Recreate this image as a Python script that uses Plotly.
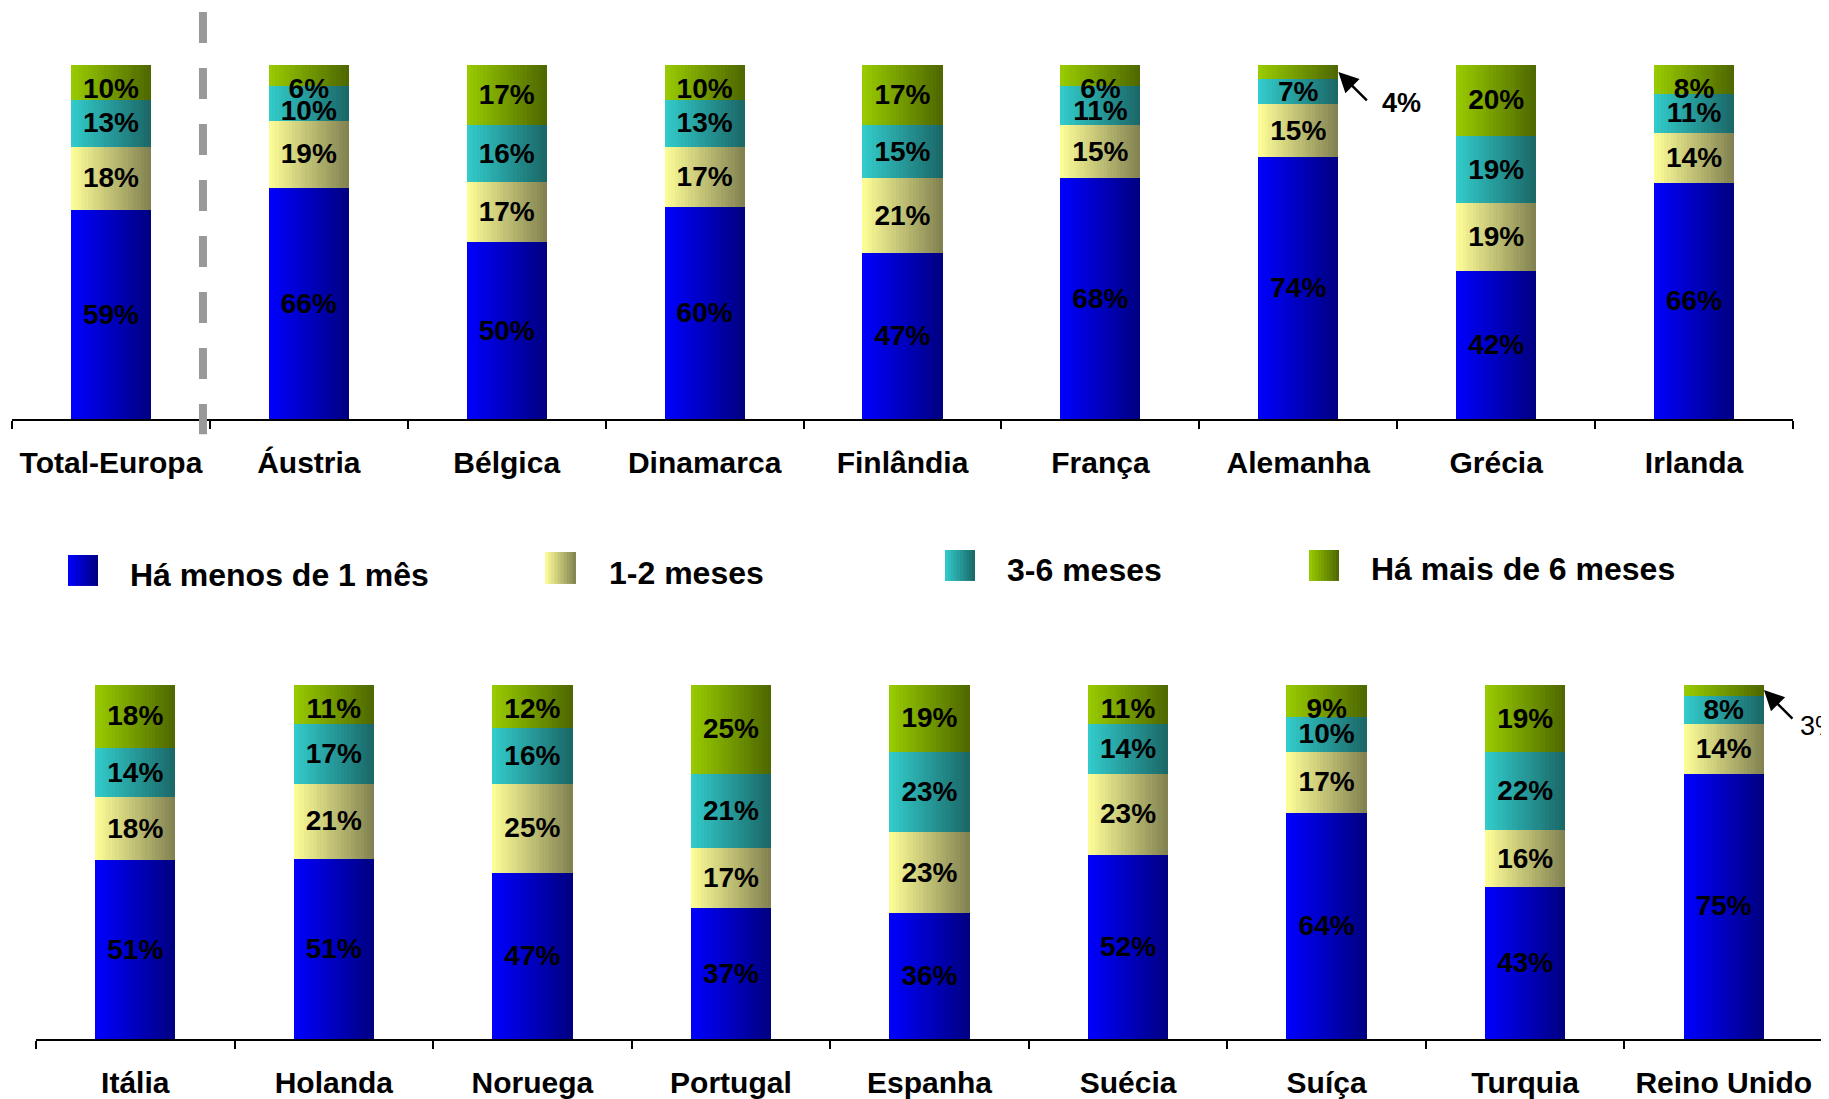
import plotly.graph_objects as go

# ---------------- data ----------------
cats_top = ["Total-Europa", "Áustria", "Bélgica", "Dinamarca", "Finlândia",
            "França", "Alemanha", "Grécia", "Irlanda"]
lt1m_top = [59, 66, 50, 60, 47, 68, 74, 42, 66]
m12_top = [18, 19, 17, 17, 21, 15, 15, 19, 14]
m36_top = [13, 10, 16, 13, 15, 11, 7, 19, 11]
gt6_top = [10, 6, 17, 10, 17, 6, 4, 20, 8]

cats_bot = ["Itália", "Holanda", "Noruega", "Portugal", "Espanha",
            "Suécia", "Suíça", "Turquia", "Reino Unido"]
lt1m_bot = [51, 51, 47, 37, 36, 52, 64, 43, 75]
m12_bot = [18, 21, 25, 17, 23, 23, 17, 16, 14]
m36_bot = [14, 17, 16, 21, 23, 14, 10, 22, 8]
gt6_bot = [18, 11, 12, 25, 19, 11, 9, 19, 3]

series_names = ["Há menos de 1 mês", "1-2 meses", "3-6 meses", "Há mais de 6 meses"]

# ---------------- style ----------------
grad_left = ["#0000FF", "#FFFF99", "#33CCCC", "#99CC00"]
grad_right = ["#000080", "#808050", "#1A6666", "#4D6600"]
FONT = "Liberation Sans, Arial, sans-serif"
OFF = 8                      # page body margin
W, H = 1829 - OFF, 1099 - OFF
K = 24                       # gradient stripes per bar
BW = 0.405                   # bar width (category units)
TOP_CAP = 93.2               # highest label centre (in % units)
LABEL_GAP = 6.3              # minimal spacing between stacked labels


def px(x):
    return (x - OFF) / W


def py(y):
    return 1 - (y - OFF) / H


def hex2rgb(h):
    h = h.lstrip("#")
    return tuple(int(h[i:i + 2], 16) for i in (0, 2, 4))


def mix(c1, c2, t):
    a, b = hex2rgb(c1), hex2rgb(c2)
    return "rgb(%d,%d,%d)" % tuple(round(a[i] + (b[i] - a[i]) * t) for i in range(3))


fig = go.Figure()
annotations = []


def add_panel(cats, series, xa, ya, arrow_bold):
    n = len(cats)
    totals = [sum(s[j] for s in series) for j in range(n)]
    norm = [[s[j] * 100.0 / totals[j] for j in range(n)] for s in series]
    bases = []
    base = [0.0] * n
    for vals in norm:
        bases.append(list(base))
        base = [base[j] + vals[j] for j in range(n)]

    # label centres, laid out from the top down so they stay inside the bar
    label_y = [[0.0] * n for _ in series]
    for j in range(n):
        prev = TOP_CAP + LABEL_GAP
        for i in reversed(range(len(series))):
            mid = bases[i][j] + norm[i][j] / 2
            if series[i][j] < 5:
                label_y[i][j] = mid
                continue
            y = min(mid, prev - LABEL_GAP)
            label_y[i][j] = y
            prev = y

    sw = BW / K
    for i, vals in enumerate(norm):
        for k in range(K):
            col = mix(grad_left[i], grad_right[i], (k + 0.5) / K)
            fig.add_trace(go.Bar(
                x=cats, y=vals, base=bases[i],
                offset=-BW / 2 + k * sw,
                width=sw * (1.7 if k < K - 1 else 1.0),
                marker=dict(color=col, line=dict(width=0)),
                xaxis=xa, yaxis=ya, showlegend=False, hoverinfo="skip"))
    for i, vals in enumerate(norm):
        labels = [f"{series[i][j]}%" if series[i][j] >= 5 else "" for j in range(n)]
        fig.add_trace(go.Scatter(
            x=cats, y=[v - 0.6 for v in label_y[i]], mode="text", text=labels,
            textfont=dict(family=FONT, size=28, color="black", weight="bold"),
            xaxis=xa, yaxis=ya, showlegend=False, hoverinfo="skip", cliponaxis=False))
        # tiny segments get an arrow call-out
        for j in range(n):
            if series[i][j] < 5:
                tipx = j + BW / 2
                tipy = bases[i][j] + vals[j] / 2
                annotations.append(dict(
                    x=tipx, y=tipy, xref=xa, yref=ya, text="", showarrow=True,
                    ax=30, ay=30, arrowhead=2, arrowsize=1.6, arrowwidth=2.5,
                    arrowcolor="black", standoff=0))
                annotations.append(dict(
                    x=tipx, y=tipy, xref=xa, yref=ya, text=f"{series[i][j]}%",
                    showarrow=False, xanchor="left", yanchor="middle",
                    xshift=42 if arrow_bold else 34, yshift=-31 if arrow_bold else -36,
                    font=dict(family=FONT, size=27, color="black",
                              weight="bold" if arrow_bold else "normal")))


add_panel(cats_top, [lt1m_top, m12_top, m36_top, gt6_top], "x", "y", True)
add_panel(cats_bot, [lt1m_bot, m12_bot, m36_bot, gt6_bot], "x2", "y2", False)

# ---------------- custom legend ----------------
shapes = []
leg_boxes = [(68, 98, 556, 587), (545, 576, 553, 585), (945, 975, 551, 582), (1309, 1339, 551, 582)]
leg_text = [(128, 576), (607, 574), (1005, 571), (1369, 570)]
for i, name in enumerate(series_names):
    x0, x1, y0, y1 = leg_boxes[i]
    n = 10
    for k in range(n):
        sx0 = x0 + (x1 - x0) * k / n
        sx1 = x0 + (x1 - x0) * (k + 1) / n + (0.6 if k < n - 1 else 0)
        shapes.append(dict(type="rect", xref="paper", yref="paper",
                           x0=px(sx0), x1=px(sx1), y0=py(y1), y1=py(y0),
                           line=dict(width=0),
                           fillcolor=mix(grad_left[i], grad_right[i], (k + 0.5) / n)))
    tx, ty = leg_text[i]
    annotations.append(dict(x=px(tx), y=py(ty), xref="paper", yref="paper",
                            text=name, showarrow=False, xanchor="left", yanchor="middle",
                            font=dict(family=FONT, size=32, color="black", weight="bold")))

# dashed separator after Total-Europa
shapes.append(dict(type="line", xref="x", yref="paper",
                   x0=0.465, x1=0.465, y0=py(12), y1=py(435),
                   line=dict(color="#999999", width=8, dash="31px,25px")))

axis_common = dict(type="category", range=[-0.5, 8.5], tickson="boundaries",
                   ticks="outside", ticklen=8, tickwidth=1.5, tickcolor="black",
                   showline=True, linecolor="black", linewidth=2, showgrid=False,
                   zeroline=False, ticklabelstandoff=16,
                   tickfont=dict(family=FONT, size=30, color="black", weight="bold"))

fig.update_layout(
    width=W, height=H,
    margin=dict(l=0, r=0, t=0, b=0),
    paper_bgcolor="white", plot_bgcolor="rgba(0,0,0,0)",
    barmode="overlay", bargap=0,
    showlegend=False,
    xaxis=dict(domain=[px(12), px(1793)], anchor="y", **axis_common),
    yaxis=dict(domain=[py(420), py(65)], range=[0, 100], visible=False, anchor="x"),
    xaxis2=dict(domain=[px(36), px(1823)], anchor="y2", **axis_common),
    yaxis2=dict(domain=[py(1041), py(686)], range=[0, 100], visible=False, anchor="x2"),
    shapes=shapes,
    annotations=annotations,
)

fig.write_html("out.html")
